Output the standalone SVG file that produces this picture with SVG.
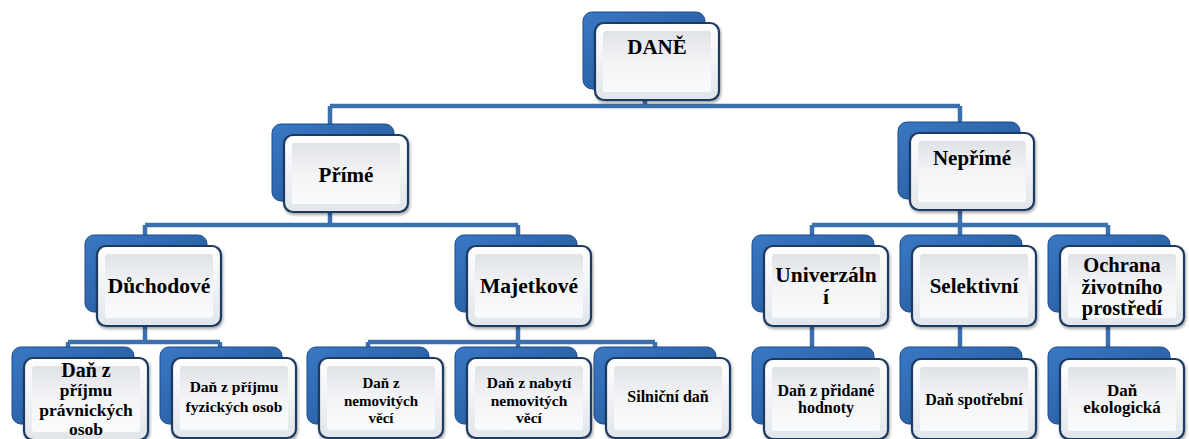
<svg xmlns="http://www.w3.org/2000/svg" width="1189" height="439" viewBox="0 0 1189 439">
<defs>
<linearGradient id="blueG" x1="0" y1="0" x2="1" y2="1">
<stop offset="0" stop-color="#3a78c4"/>
<stop offset="0.5" stop-color="#2d66ad"/>
<stop offset="1" stop-color="#24579a"/>
</linearGradient>
<linearGradient id="frontG" x1="0" y1="0" x2="0" y2="1">
<stop offset="0" stop-color="#ffffff"/>
<stop offset="1" stop-color="#e2e5ea"/>
</linearGradient>
<linearGradient id="innerG" x1="0" y1="0" x2="0" y2="1">
<stop offset="0" stop-color="#dfe2e7"/>
<stop offset="0.5" stop-color="#f3f4f6"/>
<stop offset="1" stop-color="#fafbfc"/>
</linearGradient>
<filter id="sh" x="-10%" y="-10%" width="125%" height="130%">
<feDropShadow dx="1" dy="2" stdDeviation="1.5" flood-color="#000" flood-opacity="0.35"/>
</filter>
</defs>
<style>
.back{fill:url(#blueG);stroke:#1e4b85;stroke-width:1}
.front{fill:url(#frontG);stroke:#1d3a62;stroke-width:2.2;filter:url(#sh)}
.inner{fill:url(#innerG);stroke:none}
.t{font-family:"Liberation Serif","DejaVu Serif",serif;font-weight:bold;fill:#000;text-anchor:middle}
.conn{fill:none;stroke:#3c6fae;stroke-width:4.5}
</style>
<g id="connectors">
<path class="conn" d="M645 100V106M330 106H960M330 106V124M960 106V122"/>
<path class="conn" d="M330 212V225M145 225H518M145 225V235M518 225V235"/>
<path class="conn" d="M960 210V225M812 225H1108M812 225V235M960 225V235M1108 225V235"/>
<path class="conn" d="M145 327V342M68 342H220M68 342V347M220 342V347"/>
<path class="conn" d="M518 327V342M368 342H655M368 342V347M518 342V347M655 342V347"/>
<path class="conn" d="M812 327V347M960 327V347M1108 327V347"/>
</g>
<g id="n-dane" transform="translate(583,12)">
<rect class="back" width="122" height="77" rx="9"/>
<rect class="front" x="12" y="11" width="124" height="77" rx="9"/>
<rect class="inner" x="20" y="19" width="108" height="61" rx="3"/>
<text class="t" x="74" y="42" font-size="21">DANĚ</text>
</g>
<g id="n-prime" transform="translate(272,124)">
<rect class="back" width="122" height="77" rx="9"/>
<rect class="front" x="12" y="11" width="124" height="77" rx="9"/>
<rect class="inner" x="20" y="19" width="108" height="61" rx="3"/>
<text class="t" x="74" y="58" font-size="21">Přímé</text>
</g>
<g id="n-neprime" transform="translate(898,122)">
<rect class="back" width="122" height="77" rx="9"/>
<rect class="front" x="12" y="11" width="124" height="77" rx="9"/>
<rect class="inner" x="20" y="19" width="108" height="61" rx="3"/>
<text class="t" x="74" y="43" font-size="21">Nepřímé</text>
</g>
<g id="n-duchodove" transform="translate(85,235)">
<rect class="back" width="122" height="77" rx="9"/>
<rect class="front" x="12" y="11" width="124" height="80" rx="9"/>
<rect class="inner" x="20" y="19" width="108" height="64" rx="3"/>
<text class="t" x="74" y="58" font-size="21.5">Důchodové</text>
</g>
<g id="n-majetkove" transform="translate(455,235)">
<rect class="back" width="122" height="77" rx="9"/>
<rect class="front" x="12" y="11" width="124" height="80" rx="9"/>
<rect class="inner" x="20" y="19" width="108" height="64" rx="3"/>
<text class="t" x="74" y="58" font-size="21.5">Majetkové</text>
</g>
<g id="n-univerzalni" transform="translate(752,235)">
<rect class="back" width="122" height="77" rx="9"/>
<rect class="front" x="12" y="11" width="124" height="80" rx="9"/>
<rect class="inner" x="20" y="19" width="108" height="64" rx="3"/>
<text class="t" x="74" y="47" font-size="21.5">Univerzáln</text>
<text class="t" x="74" y="69" font-size="21.5">í</text>
</g>
<g id="n-selektivni" transform="translate(900,235)">
<rect class="back" width="122" height="77" rx="9"/>
<rect class="front" x="12" y="11" width="124" height="80" rx="9"/>
<rect class="inner" x="20" y="19" width="108" height="64" rx="3"/>
<text class="t" x="74" y="58" font-size="21">Selektivní</text>
</g>
<g id="n-ochrana" transform="translate(1048,235)">
<rect class="back" width="122" height="77" rx="9"/>
<rect class="front" x="12" y="11" width="124" height="80" rx="9"/>
<rect class="inner" x="20" y="19" width="108" height="64" rx="3"/>
<text class="t" x="74" y="37" font-size="20.5">Ochrana</text>
<text class="t" x="74" y="58.5" font-size="20.5">životního</text>
<text class="t" x="74" y="80" font-size="20.5">prostředí</text>
</g>
<g id="n-dppo" transform="translate(12,347)">
<rect class="back" width="122" height="77" rx="9"/>
<rect class="front" x="12" y="11" width="124" height="82" rx="9"/>
<rect class="inner" x="20" y="19" width="108" height="66" rx="3"/>
<text class="t" x="74" y="30" font-size="20">Daň z</text>
<text class="t" x="74" y="49" font-size="17.5">příjmu</text>
<text class="t" x="74" y="68.5" font-size="17.5">právnických</text>
<text class="t" x="74" y="88" font-size="17.5">osob</text>
</g>
<g id="n-dpfo" transform="translate(160,347)">
<rect class="back" width="122" height="77" rx="9"/>
<rect class="front" x="12" y="11" width="124" height="80" rx="9"/>
<rect class="inner" x="20" y="19" width="108" height="64" rx="3"/>
<text class="t" x="74" y="45" font-size="15.5">Daň z příjmu</text>
<text class="t" x="74" y="65" font-size="15.5">fyzických osob</text>
</g>
<g id="n-nemovitosti" transform="translate(307,347)">
<rect class="back" width="122" height="77" rx="9"/>
<rect class="front" x="12" y="11" width="124" height="80" rx="9"/>
<rect class="inner" x="20" y="19" width="108" height="64" rx="3"/>
<text class="t" x="74" y="41" font-size="15">Daň z</text>
<text class="t" x="74" y="59" font-size="15">nemovitých</text>
<text class="t" x="74" y="76" font-size="15">věcí</text>
</g>
<g id="n-nabyti" transform="translate(455,347)">
<rect class="back" width="122" height="77" rx="9"/>
<rect class="front" x="12" y="11" width="124" height="80" rx="9"/>
<rect class="inner" x="20" y="19" width="108" height="64" rx="3"/>
<text class="t" x="74" y="41" font-size="15.5">Daň z nabytí</text>
<text class="t" x="74" y="59" font-size="15.5">nemovitých</text>
<text class="t" x="74" y="76" font-size="15.5">věcí</text>
</g>
<g id="n-silnicni" transform="translate(594,347)">
<rect class="back" width="122" height="77" rx="9"/>
<rect class="front" x="12" y="11" width="124" height="80" rx="9"/>
<rect class="inner" x="20" y="19" width="108" height="64" rx="3"/>
<text class="t" x="74" y="55" font-size="16">Silniční daň</text>
</g>
<g id="n-dph" transform="translate(752,347)">
<rect class="back" width="122" height="77" rx="9"/>
<rect class="front" x="12" y="12" width="124" height="80" rx="9"/>
<rect class="inner" x="20" y="20" width="108" height="64" rx="3"/>
<text class="t" x="74" y="49" font-size="16">Daň z přidané</text>
<text class="t" x="74" y="66" font-size="16">hodnoty</text>
</g>
<g id="n-spotrebni" transform="translate(900,347)">
<rect class="back" width="122" height="77" rx="9"/>
<rect class="front" x="12" y="12" width="124" height="80" rx="9"/>
<rect class="inner" x="20" y="20" width="108" height="64" rx="3"/>
<text class="t" x="74" y="58" font-size="16">Daň spotřební</text>
</g>
<g id="n-ekologicka" transform="translate(1048,347)">
<rect class="back" width="122" height="77" rx="9"/>
<rect class="front" x="12" y="12" width="124" height="80" rx="9"/>
<rect class="inner" x="20" y="20" width="108" height="64" rx="3"/>
<text class="t" x="74" y="49" font-size="17">Daň</text>
<text class="t" x="74" y="66" font-size="17">ekologická</text>
</g>
</svg>
